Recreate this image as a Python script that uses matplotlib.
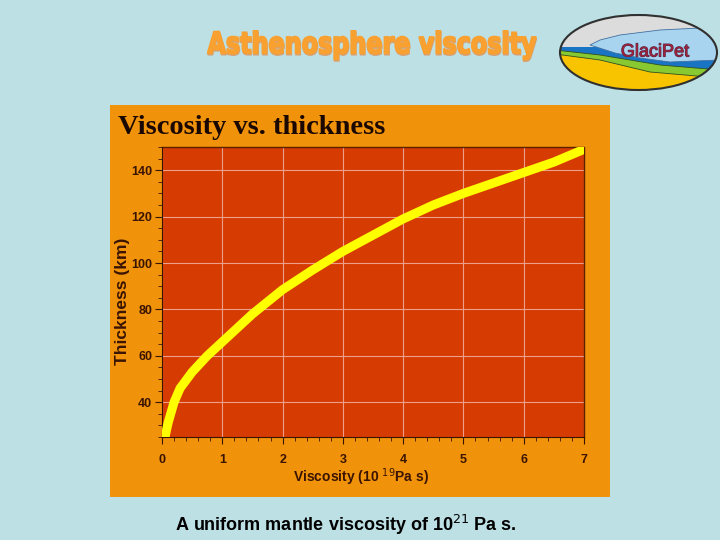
"""Asthenosphere viscosity slide: viscosity vs. thickness curve."""

import matplotlib.pyplot as plt
import numpy as np
from matplotlib.patches import Ellipse, Polygon, PathPatch
from matplotlib.textpath import TextPath
from matplotlib.font_manager import FontProperties
from matplotlib.ticker import MultipleLocator
from matplotlib.colors import LinearSegmentedColormap
from matplotlib.transforms import Affine2D
import matplotlib.patheffects as pe

# data
viscosity = [0.05, 0.1, 0.2, 0.3, 0.5, 0.75, 1.0, 1.5, 2.0, 2.5, 3.0, 3.5,
             4.0, 4.5, 5.0, 5.5, 6.0, 6.5, 7.0]
thickness = [25, 31, 40, 46, 53, 60, 66, 78, 88.5, 97, 105, 112,
             119, 125, 130, 134.5, 139, 143.5, 149]
x_ticks = [0, 1, 2, 3, 4, 5, 6, 7]
y_ticks = [40, 60, 80, 100, 120, 140]

BG = "#bde0e4"
PANEL = "#f0920a"
PLOT = "#d63c02"
INK = "#3a1400"

fig = plt.figure(figsize=(7.2, 5.4), dpi=100, facecolor=BG)

# orange panel behind the chart
panel = fig.add_axes([110 / 720, 1 - 497 / 540, 500 / 720, 392 / 540])
panel.set_facecolor(PANEL)
panel.set_xticks([])
panel.set_yticks([])
for sp in panel.spines.values():
    sp.set_visible(False)
panel.text(8 / 500, 1 - 22 / 392, "Viscosity vs. thickness", transform=panel.transAxes,
           fontsize=20.5, fontweight="bold", family="Liberation Serif", color="#1a0800",
           va="center")

ax = fig.add_axes([162 / 720, 1 - 437 / 540, 422 / 720, 290 / 540])
ax.set_facecolor(PLOT)
ax.plot(viscosity, thickness, color="#ffff00", lw=6.5, solid_capstyle="round", zorder=3)
ax.set_xlim(0, 7)
ax.set_ylim(25, 150)
ax.set_xticks(x_ticks)
ax.set_yticks(y_ticks)
ax.xaxis.set_minor_locator(MultipleLocator(0.2))
ax.yaxis.set_minor_locator(MultipleLocator(5))
ax.grid(True, which="major", color="#eaa08a", lw=0.8)
ax.set_axisbelow(True)
for side in ("top", "right"):
    ax.spines[side].set_visible(False)
for side in ("left", "bottom"):
    ax.spines[side].set_color(INK)
ax.plot([0, 7, 7], [150, 150, 25], color="#5a2000", lw=1, clip_on=False, zorder=2)
ax.tick_params(which="both", direction="out", color=INK, labelcolor=INK)
ax.tick_params(which="major", length=5, labelsize=9)
ax.tick_params(which="minor", length=3)
ax.tick_params(axis="x", pad=7)
ax.tick_params(axis="y", pad=2)
for lab in ax.get_xticklabels() + ax.get_yticklabels():
    lab.set_fontweight("bold")
    lab.set_family("Liberation Sans")
ax.set_xlabel(r"Viscosity (10 $^{19}$Pa s)", fontsize=10, fontweight="bold",
              family="Liberation Sans", color=INK)
ax.xaxis.set_label_coords((361 - 162) / 422, -(477 - 437) / 290)
ax.xaxis.label.set_va("center")
ax.set_ylabel("Thickness (km)", fontsize=12.5, fontweight="bold",
              family="Liberation Sans", color=INK)
ax.yaxis.set_label_coords(-(162 - 123) / 422, (437 - 301) / 290)
ax.yaxis.label.set_va("center")

# header with orange-to-yellow fill
fp = FontProperties(family="DejaVu Sans", weight="bold")
tp = TextPath((0, 0), "Asthenosphere viscosity", size=1, prop=fp)
ext = tp.get_extents()
hdr = fig.add_axes([207 / 720, 1 - 62 / 540, 330 / 720, 32 / 540])
hdr.set_axis_off()
shadow = PathPatch(tp.transformed(Affine2D().translate(0.02, -0.05)),
                   facecolor="#d8a070", edgecolor="#d8a070", lw=1.2)
hdr.add_patch(shadow)
hdr.add_patch(PathPatch(tp, facecolor="#f8a030", edgecolor="#f8a030", lw=1.2))
patch = PathPatch(tp, facecolor="none", edgecolor="none")
hdr.add_patch(patch)
grad = np.linspace(0, 1, 256).reshape(1, -1)
hdr_cmap = LinearSegmentedColormap.from_list(
    "hdr", ["#f8901a", "#fbae28", "#fde23c", "#fcc830", "#f8981e"])
img = hdr.imshow(grad, extent=[ext.x0, ext.x1, ext.y0, ext.y1], aspect="auto",
                 cmap=hdr_cmap, interpolation="bilinear")
img.set_clip_path(patch)
hdr.set_xlim(ext.x0 - 0.02, ext.x1 + 0.04)
hdr.set_ylim(ext.y0 - 0.08, ext.y1 + 0.02)

# GlaciPet logo (pixel-like coordinates inside its own axes)
logo = fig.add_axes([555 / 720, 1 - 93 / 540, 165 / 720, 80 / 540])
logo.set_axis_off()
logo.set_xlim(0, 165)
logo.set_ylim(0, 80)
oval = Ellipse((83.5, 40.5), 157, 75, facecolor="#dcdcdc", edgecolor="none")
logo.add_patch(oval)
layers = [
    ([(0, 46), (165, 46), (165, 0), (0, 0)], "#1a74c4", "none"),
    ([(0, 43), (45, 38), (105, 28), (165, 23), (165, 0), (0, 0)], "#88c830", "#305020"),
    ([(0, 39), (45, 33), (95, 21), (165, 15), (165, 0), (0, 0)], "#f8c400", "#305020"),
    ([(35, 48), (45, 53), (65, 58), (105, 63), (145, 65), (165, 55), (165, 33),
      (115, 31), (85, 35), (60, 40)], "#a8d4f0", "#4070a0"),
]
for pts, col, edge in layers:
    poly = Polygon(pts, facecolor=col, edgecolor=edge, lw=0.6)
    logo.add_patch(poly)
    poly.set_clip_path(oval)
logo.add_patch(Ellipse((83.5, 40.5), 157, 75, facecolor="none", edgecolor="#303030", lw=1.5))
logo.text(100, 41, "GlaciPet", fontsize=13, color="#a02038", ha="center", va="center",
          family="Liberation Sans",
          path_effects=[pe.withStroke(linewidth=0.8, foreground="#503050")])

fig.text(175 / 720, 1 - 525 / 540, r"A uniform mantle viscosity of 10$^{21}$ Pa s.",
         fontsize=13, fontweight="bold", family="Liberation Sans", color="black", va="center")

fig.savefig("out.png", dpi=100, facecolor=BG)
